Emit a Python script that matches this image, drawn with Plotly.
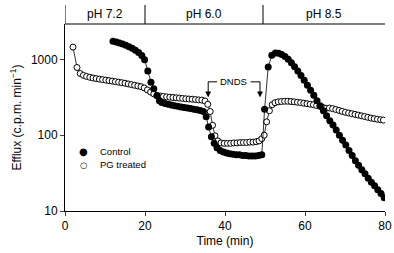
import plotly.graph_objects as go
import math

# Control (filled circles)
ctrl_t = [12.0, 12.8, 13.6, 14.4, 15.2, 16.0, 16.8, 17.6, 18.4, 19.2, 19.9, 20.7, 21.5, 22.2, 23.0, 23.6,
          24.2, 25.0, 25.8, 26.6, 27.4, 28.2, 29.0, 29.8, 30.6, 31.4, 32.2, 33.0, 33.8, 34.6, 35.3, 35.9,
          36.6, 37.3, 38.0, 38.8, 39.6, 40.4, 41.2, 42.0, 42.8, 43.6, 44.4, 45.2, 46.0, 46.8, 47.6, 48.4,
          49.2, 49.9, 50.8, 51.7, 52.6, 53.4, 54.2, 55.0, 55.8, 56.6, 57.4, 58.2, 59.0, 59.8, 60.6, 61.4,
          62.2, 63.0, 63.8, 64.6, 65.4, 66.2, 67.0, 67.8, 68.6, 69.4, 70.2, 71.0, 71.8, 72.6, 73.4, 74.2,
          75.0, 75.8, 76.6, 77.4, 78.2, 79.0, 79.8]
ctrl_v = [1730, 1690, 1640, 1590, 1530, 1470, 1400, 1320, 1230, 1120, 990, 700, 500, 410, 330, 285,
          270, 262, 255, 250, 245, 240, 236, 232, 228, 224, 220, 216, 212, 205, 175, 128,
          95, 78, 68, 63, 60, 58, 57, 56, 55, 55, 54, 54, 53, 53, 53, 54,
          55, 220, 790, 1130, 1210, 1200, 1160, 1090, 1000, 900, 800, 700, 610, 530, 455, 390,
          335, 285, 245, 210, 180, 155, 136, 117, 100, 86, 74, 63, 54, 46, 40, 35,
          31, 27, 24, 21.5, 19, 17, 15]

# PG treated (open circles)
pg_t = [2.0, 3.0, 3.8, 4.6, 5.4, 6.2, 7.0, 7.8, 8.6, 9.4, 10.2, 11.0, 11.8, 12.6, 13.4, 14.2, 15.0, 15.8,
        16.6, 17.4, 18.2, 19.0, 19.8, 20.6, 21.4, 22.2, 23.0, 23.8, 24.6, 25.4, 26.2, 27.0, 27.8, 28.6,
        29.4, 30.2, 31.0, 31.8, 32.6, 33.4, 34.2, 35.0, 35.7, 36.3, 36.9, 37.5, 38.2, 39.0, 39.8, 40.6,
        41.4, 42.2, 43.0, 43.8, 44.6, 45.4, 46.2, 47.0, 47.8, 48.5, 49.2, 49.8, 50.4, 51.1, 51.8, 52.5,
        53.3, 54.1, 54.9, 55.7, 56.5, 57.3, 58.1, 58.9, 59.7, 60.5, 61.3, 62.1, 62.9, 63.7, 64.5, 65.3,
        66.1, 66.9, 67.7, 68.5, 69.3, 70.1, 70.9, 71.7, 72.5, 73.3, 74.1, 74.9, 75.7, 76.5, 77.3, 78.1,
        78.9, 79.6]
pg_v = [1450, 780, 650, 615, 595, 580, 568, 558, 548, 540, 532, 524, 516, 508, 500, 492, 484, 474,
        464, 455, 446, 436, 420, 395, 370, 350, 335, 328, 324, 320, 317, 314, 311, 308,
        305, 302, 300, 298, 295, 292, 290, 282, 255, 205, 135, 98, 84, 79, 78, 78,
        78, 79, 79, 80, 80, 80, 81, 81, 82, 84, 90, 100, 150, 210, 252, 268,
        275, 278, 280, 280, 278, 275, 272, 268, 264, 260, 256, 252, 246, 240, 232, 226,
        228, 224, 218, 212, 206, 200, 196, 192, 188, 184, 180, 176, 172, 168, 165, 162,
        160, 158]

series_names = ["Control", "PG treated"]
ph_edges = [0, 20, 49.5, 80]
ph_labels = ["pH 7.2", "pH 6.0", "pH 8.5"]
x_ticks = [0, 20, 40, 60, 80]
y_ticks = [10, 100, 1000]

Y_LOG_RANGE = [1, 3.466]
PLOT_H = 187
PLOT_W = 320


def ypaper(v):
    return (math.log10(v) - Y_LOG_RANGE[0]) / (Y_LOG_RANGE[1] - Y_LOG_RANGE[0])


fig = go.Figure()
fig.add_trace(go.Scatter(x=pg_t, y=pg_v, mode="lines+markers", name=series_names[1], showlegend=False,
                         line=dict(color="black", width=0.8),
                         marker=dict(symbol="circle", size=6, color="white", line=dict(color="black", width=1))))
fig.add_trace(go.Scatter(x=ctrl_t, y=ctrl_v, mode="lines+markers", name=series_names[0], showlegend=False,
                         line=dict(color="black", width=0.8),
                         marker=dict(symbol="circle", size=7, color="black", line=dict(color="black", width=0))))

font = "Liberation Sans, Arial, sans-serif"
fig.update_layout(
    width=394, height=253,
    margin=dict(l=65, r=9, t=24, b=42),
    paper_bgcolor="white", plot_bgcolor="white",
    font=dict(family=font, color="black", size=12),
    showlegend=False,
    xaxis=dict(range=[0, 80], tickvals=x_ticks, ticks="outside", ticklen=4, showline=True,
               linecolor="black", linewidth=1, showgrid=False, zeroline=False, automargin=False,
               tickfont=dict(size=12),
               title=dict(text="Time (min)", font=dict(size=12), standoff=4)),
    yaxis=dict(type="log", range=Y_LOG_RANGE, tickvals=y_ticks, ticktext=[str(v) for v in y_ticks],
               ticks="outside", ticklen=4, showline=True, linecolor="black", linewidth=1,
               showgrid=False, zeroline=False, automargin=False, tickfont=dict(size=12),
               title=dict(text="Efflux (c.p.m. min<sup>−1</sup>)", font=dict(size=12), standoff=6)),
)

# pH bar
hbar = 19 / PLOT_H
fig.add_shape(type="line", xref="x", yref="paper", x0=ph_edges[0], x1=ph_edges[-1], y0=1, y1=1,
              line=dict(color="black", width=1))
for e in ph_edges[:-1]:
    fig.add_shape(type="line", xref="x", yref="paper", x0=e, x1=e, y0=1, y1=1 + hbar,
                  line=dict(color="black", width=1))
for i, lab in enumerate(ph_labels):
    fig.add_annotation(x=(ph_edges[i] + ph_edges[i + 1]) / 2, y=1 + hbar * 0.55, xref="x", yref="paper",
                       text=lab, showarrow=False, font=dict(size=12), xanchor="center", yanchor="middle")

# DNDS bracket
yb = ypaper(505)
ytip = ypaper(330)
fig.add_shape(type="line", xref="x", yref="paper", x0=35.8, x1=38.0, y0=yb, y1=yb, line=dict(color="black", width=1))
fig.add_shape(type="line", xref="x", yref="paper", x0=46.4, x1=48.75, y0=yb, y1=yb, line=dict(color="black", width=1))
for xv in [35.8, 48.75]:
    fig.add_shape(type="line", xref="x", yref="paper", x0=xv, x1=xv, y0=yb, y1=ytip,
                  line=dict(color="black", width=1))
    fig.add_shape(type="path", xref="x", yref="paper", xsizemode="pixel", ysizemode="pixel",
                  xanchor=xv, yanchor=ytip, path="M -2.5,4 L 2.5,4 L 0,-1 Z",
                  fillcolor="black", line=dict(color="black", width=0.5))
fig.add_annotation(x=42.15, y=yb, xref="x", yref="paper", text="DNDS", showarrow=False, font=dict(size=9.5),
                   xanchor="center", yanchor="middle")

# Legend (drawn as text)
leg_y = [(211 - 151.3) / PLOT_H, (211 - 164.7) / PLOT_H]
fig.add_annotation(x=(83.3 - 65) / PLOT_W, y=leg_y[0], xref="paper", yref="paper", text="●", showarrow=False,
                   font=dict(size=10, family="DejaVu Sans"), xanchor="center", yanchor="middle")
fig.add_annotation(x=(83.3 - 65) / PLOT_W, y=leg_y[1], xref="paper", yref="paper", text="○", showarrow=False,
                   font=dict(size=8.5, family="DejaVu Sans"), xanchor="center", yanchor="middle")
for i, nm in enumerate(series_names):
    fig.add_annotation(x=(98 - 65) / PLOT_W, y=leg_y[i], xref="paper", yref="paper", text=nm, showarrow=False,
                       font=dict(size=9.5), xanchor="left", yanchor="middle")

fig.write_html("out.html", config={"displayModeBar": False},
               post_script="document.body.style.margin='0';document.body.style.overflow='hidden';")
